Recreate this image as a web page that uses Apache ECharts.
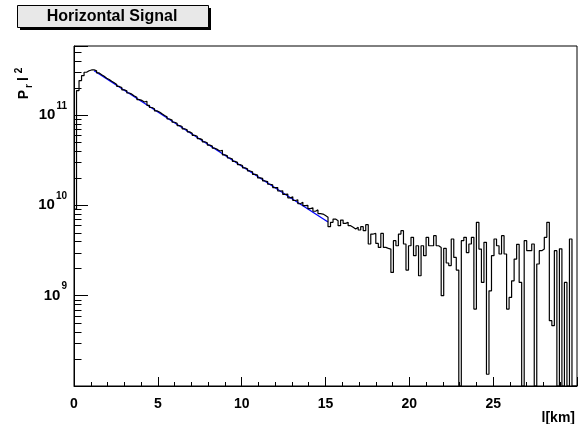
<!DOCTYPE html>
<html>
<head>
<meta charset="utf-8">
<script src="https://cdn.jsdelivr.net/npm/echarts@6/dist/echarts.min.js"></script>
<style>
html, body { margin: 0; padding: 0; background: #fff; }
#main { width: 582px; height: 424px; }
</style>
</head>
<body>
<div id="main"></div>
<script>
// histogram of P_r * l^2, 0.15 km bins from 0 to 30 km, values in units of 1e9
var UNIT = 1e9;
var BIN_WIDTH = 0.15;
var signal = [
    9.1, 186, 240, 272, 297, 309, 315, 316, 309, 292,
    279, 268, 255, 247, 236, 227, 218, 207, 201, 190,
    185, 175, 170, 162, 157, 148, 145, 139, 142, 128,
    121, 117, 111, 108, 103, 98.5, 95.4, 90.2, 87.8, 83.1,
    80.9, 76.4, 74.5, 70.3, 68.6, 65.0, 62.9, 59.6, 58.1, 54.8,
    53.4, 50.5, 49.2, 46.4, 45.3, 42.9, 41.6, 39.9, 40.6, 36.2,
    35.3, 33.4, 32.5, 30.6, 29.9, 28.2, 27.6, 26.0, 25.4, 24.0,
    23.5, 22.0, 21.6, 20.1, 19.9, 18.6, 18.3, 17.1, 16.9, 15.7,
    15.7, 14.4, 14.5, 13.2, 13.3, 12.1, 12.4, 11.3, 11.5, 10.4,
    10.8, 9.9, 10.0, 9.2, 9.4, 8.6, 8.9, 8.1, 8.0, 7.7,
    7.36, 5.80, 6.48, 7.05, 6.76, 5.95, 6.87, 6.31, 6.48, 5.95,
    5.70, 5.46, 5.70, 5.33, 5.80, 5.24, 6.10, 3.73, 4.81, 4.89,
    3.79, 3.42, 4.89, 3.42, 3.34, 3.28, 1.81, 4.06, 3.57, 4.81,
    5.24, 3.73, 1.92, 3.57, 4.42, 2.77, 3.57, 1.66, 3.57, 2.77,
    4.42, 3.57, 3.57, 4.61, 3.57, 3.42, 1.00, 3.34, 2.30, 2.15,
    4.24, 2.65, 1.92, 0, 4.06, 4.42, 3.00, 3.73, 4.42, 0.711,
    6.48, 3.28, 1.40, 3.89, 0.135, 1.13, 2.77, 4.24, 3.57, 2.89,
    4.61, 2.89, 0.711, 0.957, 1.46, 2.54, 3.70, 1.40, 0, 4.06,
    3.15, 3.15, 3.73, 0, 2.24, 3.15, 3.28, 4.42, 6.48, 0.528,
    0.465, 3.15, 0, 3.30, 0, 1.40, 0, 4.24, 0, 0
];

// exponential fit (straight on the log axis)
var fitX = [1.2, 15.15];
var fitY = [309, 6.53];

var X_MAX = 30;
var Y_MIN = 1e8;
var Y_MAX = 5.8e11;

var FONT = 'Liberation Sans, Arial, Helvetica, sans-serif';

var chart = echarts.init(document.getElementById('main'), null, {renderer: 'canvas'});

function buildHist() {
    var d = [];
    for (var i = 0; i < signal.length; i++) {
        var v = signal[i] > 0 ? signal[i] * UNIT : Y_MIN;
        d.push([i * BIN_WIDTH, v]);
    }
    // closing edge of the last bin
    d.push([signal.length * BIN_WIDTH, d[d.length - 1][1]]);
    return d;
}

var fitData = fitX.map(function (x, i) { return [x, fitY[i] * UNIT]; });

var option = {
    animation: false,
    backgroundColor: '#fff',
    grid: {
        left: 74, right: 5, top: 46, bottom: 38,
        show: true, borderColor: '#000', borderWidth: 1,
        backgroundColor: 'transparent'
    },
    xAxis: {
        type: 'value', min: 0, max: X_MAX, interval: 5,
        axisLine: {show: true, lineStyle: {color: '#000', width: 1}},
        axisTick: {show: true, inside: true, length: 9, lineStyle: {color: '#000'}},
        minorTick: {show: true, splitNumber: 5, length: 4, lineStyle: {color: '#000'}},
        splitLine: {show: false},
        axisLabel: {
            margin: 11, color: '#000', fontFamily: FONT, fontWeight: 'bold', fontSize: 14,
            formatter: function (v) { return v >= X_MAX ? '' : String(v); }
        }
    },
    yAxis: {
        type: 'log', logBase: 10, min: Y_MIN, max: Y_MAX,
        axisLine: {show: true, lineStyle: {color: '#000', width: 1}},
        axisTick: {show: true, inside: true, length: 14, lineStyle: {color: '#000'}},
        splitLine: {show: false},
        axisLabel: {
            margin: 7,
            formatter: function (v) {
                var lg = Math.log10(v);
                var e = Math.round(lg);
                if (e <= 8 || Math.abs(lg - e) > 0.01) return '';
                return '{b|10}{s|' + e + '}';
            },
            rich: {
                b: {fontFamily: FONT, fontWeight: 'bold', fontSize: 15, lineHeight: 28, color: '#000'},
                s: {fontFamily: FONT, fontWeight: 'bold', fontSize: 10, lineHeight: 12,
                    verticalAlign: 'top', color: '#000', padding: [0, 0, 0, 1]}
            }
        }
    },
    series: [
        {
            name: 'fit', type: 'line', data: fitData, symbol: 'none', z: 2,
            lineStyle: {color: '#0000ff', width: 1.3}
        },
        {
            name: 'signal', type: 'line', step: 'end', data: buildHist(), symbol: 'none', z: 3,
            clip: true,
            lineStyle: {color: '#000', width: 1.2}
        }
    ]
};

chart.setOption(option);

// minor ticks of the log axis (2..9 x 10^n), placed through the axis scale
function logMinorTicks() {
    var out = [];
    var x0 = Math.round(chart.convertToPixel({gridIndex: 0}, [0, Y_MIN])[0]) + 0.5;
    for (var n = 8; n <= 11; n++) {
        for (var m = 2; m <= 9; m++) {
            var v = m * Math.pow(10, n);
            if (v >= Y_MAX) break;
            var y = Math.round(chart.convertToPixel({gridIndex: 0}, [0, v])[1]) + 0.5;
            out.push({
                type: 'line', z: 10, silent: true,
                shape: {x1: x0, y1: y, x2: x0 + 7, y2: y},
                style: {stroke: '#000', lineWidth: 1}
            });
        }
    }
    return out;
}

var graphics = logMinorTicks();

// title box with shadow
graphics.push({type: 'rect', z: 10, shape: {x: 20, y: 8, width: 191, height: 22}, style: {fill: '#000'}});
graphics.push({type: 'rect', z: 11, shape: {x: 17.5, y: 5.5, width: 191, height: 22},
    style: {fill: '#e8e8e8', stroke: '#000', lineWidth: 1}});
graphics.push({type: 'text', z: 12, x: 112, y: 17,
    style: {text: 'Horizontal Signal', font: 'bold 16px ' + FONT, fill: '#000', align: 'center', verticalAlign: 'middle'}});

// axis titles
graphics.push({type: 'text', z: 12, x: 24, y: 85, rotation: Math.PI / 2,
    style: {
        text: '{m|P}{d|r}{m|l}{u|2}', align: 'center', verticalAlign: 'middle', fill: '#000',
        rich: {
            m: {fontFamily: FONT, fontWeight: 'bold', fontSize: 14, lineHeight: 20, fill: '#000', padding: [0, 0, 0, 3]},
            d: {fontFamily: FONT, fontWeight: 'bold', fontSize: 10, lineHeight: 11, verticalAlign: 'bottom', fill: '#000', padding: [0, 0, 0, 2]},
            u: {fontFamily: FONT, fontWeight: 'bold', fontSize: 10, lineHeight: 11, verticalAlign: 'top', fill: '#000', padding: [0, 0, 0, 4]}
        }
    }});
graphics.push({type: 'text', z: 12, x: 575, y: 418,
    style: {text: 'l[km]', font: 'bold 14px ' + FONT, fill: '#000', align: 'right', verticalAlign: 'middle'}});

chart.setOption({graphic: graphics});
</script>
</body>
</html>
